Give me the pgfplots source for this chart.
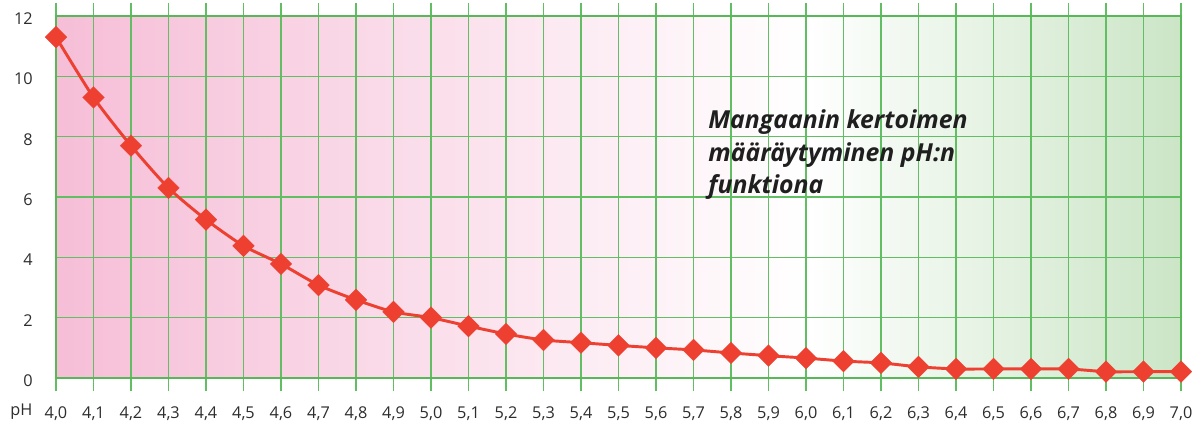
\documentclass[border=0pt]{standalone}
\usepackage{pgfplots}
\pgfplotsset{compat=1.18}
\usepackage{fontspec}
\setmainfont{Open Sans}
\definecolor{gridgreen}{RGB}{98,190,98}
\definecolor{framegreen}{RGB}{88,184,88}
\definecolor{pinkL}{RGB}{246,190,215}
\definecolor{greenR}{RGB}{203,229,198}
\definecolor{linered}{RGB}{238,64,48}
\definecolor{txt}{RGB}{45,45,45}
\begin{document}
\begin{tikzpicture}[x=1pt,y=1pt]
\pgfplotsset{set layers}
\begin{axis}[
  name=ax,
  scale only axis,
  width=843.75pt, height=271.5pt,
  xmin=4.0, xmax=7.0, ymin=0, ymax=12,
  xtick={4.0,4.1,...,7.05},
  ytick={0,2,...,12},
  grid=major,
  major grid style={draw=gridgreen, line width=1.1pt},
  axis line style={draw=framegreen, line width=2.2pt},
  tick align=outside,
  major tick length=10pt,
  xtick style={draw=gridgreen, line width=1.1pt},
  ytick style={draw=none},
  tick label style={font=\fontsize{12.2}{13}\selectfont, text=txt},
  /pgf/number format/assume math mode=true,
  xticklabel style={/pgf/number format/.cd, fixed, fixed zerofill, precision=1, use comma, /tikz/.cd, yshift=-8pt},
  yticklabel style={xshift=-4pt, yshift=-2pt},
  clip=false,
  axis on top=false,
]
\begin{pgfonlayer}{axis background}
\fill[left color=pinkL, right color=white] (axis cs:4.0,0) rectangle (axis cs:6.0,12);
\fill[left color=white, right color=greenR] (axis cs:6.0,0) rectangle (axis cs:7.0,12);
\end{pgfonlayer}
\addplot[color=linered, line width=2.2pt, smooth, tension=0.4,
  mark=square*, mark size=5.8pt, mark options={rotate=45, fill=linered, draw=linered, line width=0.1pt}]
coordinates {
(4.0,11.3) (4.1,9.3) (4.2,7.7) (4.3,6.3) (4.4,5.25) (4.5,4.38) (4.6,3.78)
(4.7,3.08) (4.8,2.59) (4.9,2.19) (5.0,2.0) (5.1,1.72) (5.2,1.46) (5.3,1.26)
(5.4,1.17) (5.5,1.08) (5.6,1.0) (5.7,0.93) (5.8,0.83) (5.9,0.74) (6.0,0.66)
(6.1,0.56) (6.2,0.5) (6.3,0.37) (6.4,0.3) (6.5,0.3) (6.6,0.3) (6.7,0.3)
(6.8,0.21) (6.9,0.21) (7.0,0.21)
};
\node[anchor=north west, align=left, inner sep=0pt, text=black!88, font=\fontsize{18.6}{24.5}\selectfont\bfseries\itshape] at (axis cs:5.739,8.9) {Mangaanin kertoimen\\määräytyminen pH:n\\funktiona};
\end{axis}
\node[anchor=base, text=txt, font=\fontsize{12.2}{13}\selectfont] at ([shift={(-26pt,-28.5pt)}]ax.south west) {pH};
\path ([shift={(-42pt,-33pt)}]ax.south west) rectangle ([shift={(12.75pt,12pt)}]ax.north east);
\end{tikzpicture}
\end{document}
